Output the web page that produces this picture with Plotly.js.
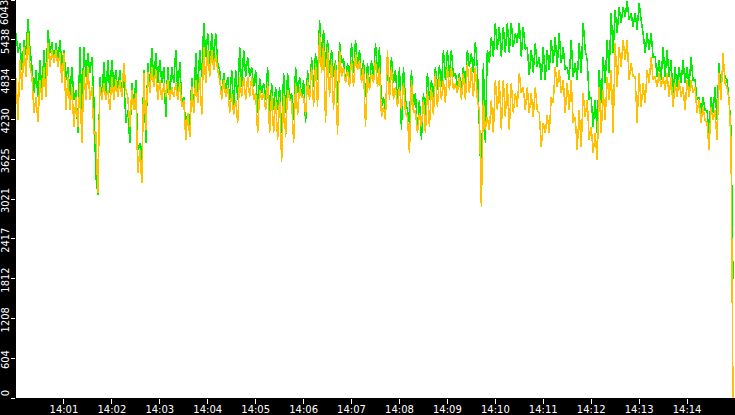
<!DOCTYPE html>
<html>
<head>
<meta charset="utf-8">
<script src="https://cdn.plot.ly/plotly-3.0.1.min.js"></script>
<style>
  html, body { margin: 0; padding: 0; background: #000; }
  #chart { width: 735px; height: 415px; }
  .js-line { shape-rendering: crispEdges; }
</style>
</head>
<body>
<div id="chart"></div>
<script>
// one pair per ~5 s column: top of the column, bottom of the column
const greenValues = [
  5540,5240, 5390,4980, 5440,5210, 5760,5290, 5030,4630, 4980,4570, 5130,4570, 5290,4780, 5590,5240, 5410,5090,
  5390,5130, 5440,5030, 5290,4830, 5030,4570, 5030,4530, 4680,4020, 5330,4370, 5330,4880, 5240,4940, 5180,4530,
  3360,3080, 4880,4530, 5100,4570, 5130,4630, 5130,4720, 4980,4630, 4980,4570, 4880,4180, 4370,3870, 4780,4420,
  4830,3770, 3870,3510, 4980,3870, 5090,4720, 5320,4780, 5240,4780, 5130,4780, 5030,4270, 5030,4570, 5030,4780,
  5290,4630, 5100,4480, 4570,4120, 4330,4120, 4860,4370, 5240,4630, 5290,4880, 5700,5180, 5540,5030, 5540,5130,
  5540,5090, 4980,4530, 4940,4630, 4880,4530, 4980,4420, 4980,4530, 5330,4720, 5290,4880, 5180,4880, 5030,4720,
  4980,4330, 4860,4630, 4780,4530, 5030,4270, 4780,4370, 4720,4370, 4720,4020, 4940,4330, 4940,4530, 4630,4220,
  5030,4630, 4880,4570, 4830,4180, 4980,4530, 5180,4720, 5240,4830, 5740,5180, 5590,5030, 5440,4940, 5290,4880,
  5130,4480, 5410,5090, 5160,4780, 5090,4830, 5390,4940, 5440,5030, 5290,4830, 5130,4570, 5090,4720, 5130,4830,
  5390,4940, 5330,4420, 4570,4330, 5090,4680, 5180,4780, 4980,4480, 5030,4070, 5030,4530, 4370,4180, 4980,4420,
  4630,4070, 4530,3920, 4630,4270, 4940,4530, 4830,4530, 5030,4680, 5060,4720, 5290,4830, 5290,4880, 5290,4880,
  4940,4720, 4940,4630, 5030,4720, 5290,5030, 5240,4940, 5410,5030, 4120,3130, 5090,3870, 5290,5090, 5480,5180,
  5700,5290, 5640,5180, 5640,5240, 5700,5240, 5700,5330, 5540,5390, 5700,5180, 5640,5290, 5330,4910, 5290,4940,
  5390,5030, 5180,4830, 5330,4830, 5290,4980, 5440,5090, 5480,5030, 5540,5090, 5330,4980, 5030,4830, 5440,4880,
  5090,4830, 5390,4940, 5700,5290, 5130,4530, 4570,4120, 4530,4020, 4980,4480, 5180,4780, 5440,4940, 5850,5240,
  5890,5540, 5940,5700, 5940,5790, 6030,5740, 5850,5640, 5850,5590, 6000,5740, 5540,5240, 5540,5290, 5540,5180,
  5180,4880, 5130,4830, 5330,4880, 5290,4880, 5130,4570, 5030,4720, 5030,4780, 5130,4780, 5030,4720, 5180,4830,
  4830,4530, 4570,4330, 4570,4370, 4370,4020, 4570,4330, 4720,4220, 5090,4630, 5130,4880, 4830,4530, 4100,1810
];
const orangeValues = [
  4860,4220, 5130,4680, 5330,4880, 5540,5030, 4880,4330, 4570,4190, 4830,4530, 5030,4570, 5390,5030, 5290,5090,
  5290,5030, 5240,4780, 5240,4370, 4880,4370, 4720,4120, 4570,4120, 4780,3870, 4980,4530, 5030,4530, 4720,4020,
  4040,3110, 4720,4530, 4780,4530, 4680,4370, 4880,4530, 4830,4570, 4830,4570, 5090,4680, 4570,4120, 4680,4370,
  4630,3420, 3770,3260, 4940,4070, 4950,4630, 5030,4720, 4980,4530, 4830,4530, 4780,4570, 4830,4530, 4720,4570,
  4780,4530, 4780,4420, 4530,3920, 4330,3960, 4720,4330, 4830,4480, 4880,4300, 5330,4780, 5290,4880, 5290,4980,
  5210,4980, 4830,4530, 4830,4570, 4720,4330, 4630,4300, 4530,4180, 4880,4570, 4880,4530, 4880,4570, 4880,4530,
  4630,4020, 4680,4530, 4630,4370, 4780,4020, 4630,4020, 4530,3920, 4570,3580, 4630,3960, 4680,4530, 4530,3870,
  4780,4300, 4720,4570, 4570,4300, 4830,4530, 5030,4420, 5090,4420, 5540,4940, 5390,4180, 5330,4570, 5130,4370,
  5090,3990, 5290,4880, 5030,4780, 4980,4720, 5130,4720, 5240,4980, 5130,4780, 5030,4120, 4940,4680, 4940,4780,
  5130,4720, 5030,4270, 4420,4220, 5290,4530, 5030,4530, 4720,4420, 4720,4370, 4780,4330, 4270,3720, 4830,4330,
  4370,4020, 4330,4120, 4530,4020, 4680,4120, 4720,4300, 4940,4420, 4880,4530, 4830,4480, 5030,4680, 5030,4680,
  4780,4630, 4880,4530, 4940,4530, 5090,4630, 5030,4570, 5030,4530, 4370,2900, 4530,4070, 4270,4070, 4530,4020,
  4830,4370, 4830,4070, 4830,4270, 4780,4070, 4780,4330, 4630,4420, 4940,4630, 4720,4370, 4720,4330, 4630,4270,
  4720,4370, 4330,3810, 4180,4020, 4300,4020, 4570,4480, 5030,4720, 4980,4630, 4830,4330, 4780,4370, 4830,4180,
  4270,3770, 4370,3810, 4630,4270, 4530,3920, 4120,3720, 4020,3610, 4720,4020, 4680,4220, 4880,4530, 4980,4020,
  5390,4720, 5330,5030, 5440,5130, 5440,4830, 5090,4880, 4880,4180, 4940,4420, 4780,4480, 4980,4780, 5180,4830,
  4880,4720, 4940,4720, 4880,4680, 4940,4570, 4880,4420, 4780,4570, 4830,4570, 4720,4370, 4830,4570, 4830,4630,
  4720,4330, 4530,4180, 4420,4220, 4180,3770, 4420,4220, 4370,3920, 4940,4530, 5240,4780, 4720,4530, 3900,0
];
const yTickValues = [0, 604, 1208, 1812, 2417, 3021, 3625, 4230, 4834, 5438, 6043];
const yTickLabels = ['0', '604', '1208', '1812', '2417', '3021', '3625', '4230', '4834', '5438', '6043'];
const xTickLabels = ['14:01', '14:02', '14:03', '14:04', '14:05', '14:06', '14:07',
                     '14:08', '14:09', '14:10', '14:11', '14:12', '14:13', '14:14'];

// time axis: 14:00 to 14:15, one value every 2.5 s
const t0 = Date.UTC(2024, 0, 1, 14, 0, 0);
const step = 2500;
let times = greenValues.map((_, i) => t0 + i * step);
let xTickValues = xTickLabels.map((_, i) => t0 + (i + 1) * 60000);

// the bottom label is pushed up a little, the top one is drawn as an annotation
// so that it stays inside the picture
let yTickText = yTickLabels.map((s, i) => i === 0 ? '\u00a0\u00a0\u00a0\u00a0' + s : s);
let topIdx = yTickLabels.length - 1;
yTickText[topIdx] = '';

let labelFont = { family: 'Liberation Sans Narrow, DejaVu Sans Condensed, sans-serif', size: 11, color: '#fff' };

let data = [
  {
    x: times, y: greenValues,
    mode: 'lines', line: { color: '#00ee00', width: 1.5, simplify: false },
    hoverinfo: 'skip', showlegend: false
  },
  {
    x: times, y: orangeValues,
    mode: 'lines', line: { color: '#ffc000', width: 1.5, simplify: false },
    hoverinfo: 'skip', showlegend: false
  }
];

let layout = {
  width: 735, height: 415,
  paper_bgcolor: '#000', plot_bgcolor: '#fff',
  margin: { l: 16, r: 0, t: 0, b: 17, pad: 0 },
  xaxis: {
    type: 'date',
    range: [t0, t0 + 15 * 60000],
    tickmode: 'array', tickvals: xTickValues, ticktext: xTickLabels,
    ticks: 'outside', ticklen: 5, tickwidth: 1, tickcolor: '#fff',
    tickfont: { family: 'DejaVu Sans', size: 10, color: '#fff' },
    ticklabelstandoff: -3, ticklabeloverflow: 'allow',
    showgrid: false, zeroline: false, showline: false
  },
  yaxis: {
    range: [0, 6045],
    tickmode: 'array', tickvals: yTickValues, ticktext: yTickText,
    tickangle: -90,
    ticks: 'outside', ticklen: 4, tickwidth: 1, tickcolor: '#fff',
    tickfont: labelFont,
    ticklabelshift: 3, ticklabelstandoff: -2, ticklabeloverflow: 'allow',
    showgrid: false, zeroline: false, showline: false
  },
  annotations: [{
    xref: 'paper', yref: 'y', x: 0, y: 6045,
    xanchor: 'right', yanchor: 'top', xshift: -4, yshift: 1,
    text: yTickLabels[topIdx], textangle: -90, showarrow: false,
    font: labelFont, borderpad: 0
  }]
};

Plotly.newPlot('chart', data, layout, { staticPlot: true, displayModeBar: false });
</script>
</body>
</html>
